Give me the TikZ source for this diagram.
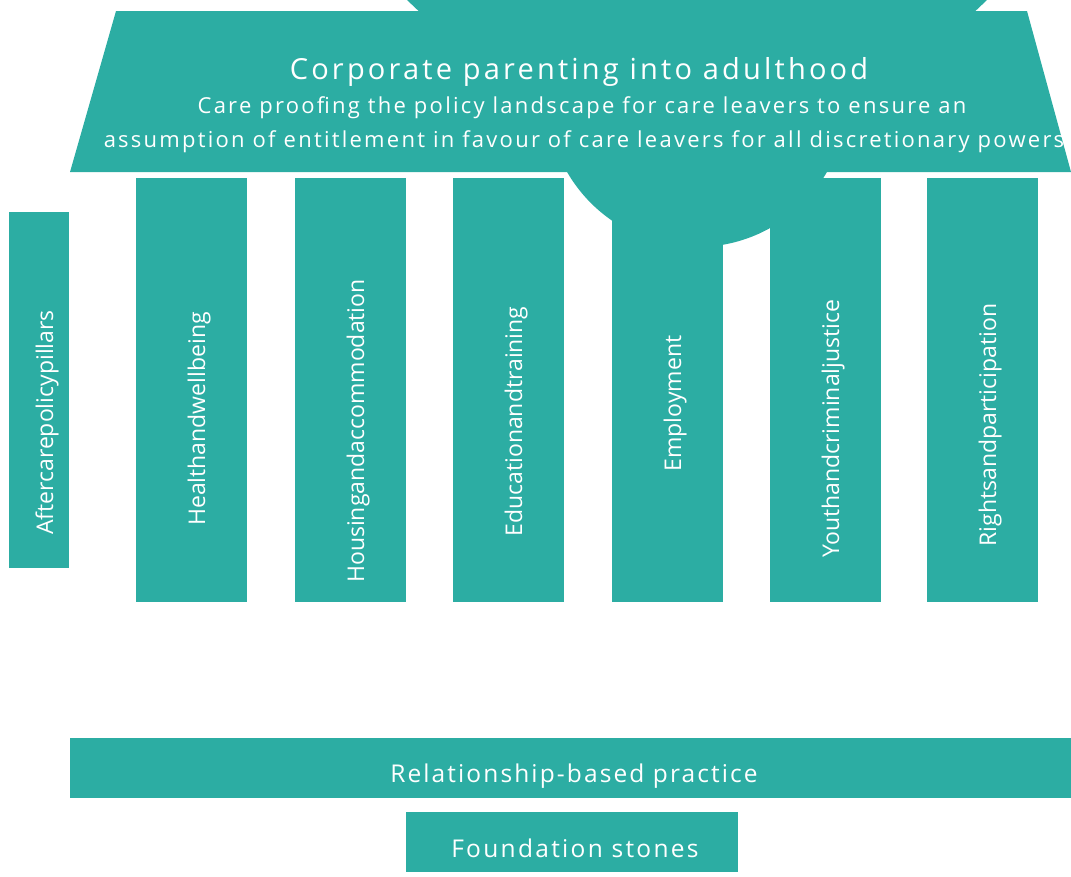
\documentclass[tikz,border=0pt]{standalone}
\usepackage{fontspec}
\setmainfont{Open Sans}
\newfontfamily\spacedT[LetterSpace=11]{Open Sans}
\newfontfamily\spacedS[LetterSpace=10.2]{Open Sans}
\newfontfamily\spacedR[LetterSpace=8.6]{Open Sans}
\newfontfamily\spacedF[LetterSpace=9.4]{Open Sans}
\definecolor{tealc}{RGB}{44,173,163}
\begin{document}
\begin{tikzpicture}[x=1pt,y=-1pt,
  pillar/.style={fill=tealc, draw=none, inner sep=0pt, outer sep=0pt, anchor=north west, minimum width=111pt, minimum height=424pt},
  slab/.style={fill=tealc, draw=none, inner sep=0pt, outer sep=0pt, anchor=north west, minimum height=60pt},
  vlabel/.style={text=white, rotate=90, anchor=base, inner sep=0pt, font=\fontsize{23}{23}\selectfont},
  hlabel/.style={text=white, anchor=base, inner sep=0pt}]
\useasboundingbox (0,0) rectangle (1071,876);
\begin{scope}
\clip (0,0) rectangle (1071,876);
\fill[tealc] (697,-290) circle[radius=410pt];
\end{scope}
\fill[tealc] (697,97) circle[radius=150pt];
\fill[tealc] (116,11) -- (1027,11) -- (1071,172) -- (70,172) -- cycle;
\node[hlabel, font=\spacedT\fontsize{29}{29}\selectfont] (title) at (579,79.5) {Corporate parenting into adulthood};
\node[hlabel, font=\spacedS\fontsize{22}{22}\selectfont] (sub1) at (582,113) {Care proofing the policy landscape for care leavers to ensure an};
\node[hlabel, font=\spacedS\fontsize{22}{22}\selectfont] (sub2) at (584,147) {assumption of entitlement in favour of care leavers for all discretionary powers};
% pillars
\node[pillar, minimum width=60pt, minimum height=356pt] (aft) at (9,212) {};
\node[pillar] (health) at (136,178) {};
\node[pillar] (housing) at (295,178) {};
\node[pillar] (edu) at (453,178) {};
\node[pillar] (emp) at (612,178) {};
\node[pillar] (youth) at (770,178) {};
\node[pillar] (rights) at (927,178) {};
\node[vlabel] (aftl) at (53,422.5) {Aftercarepolicypillars};
\node[vlabel] (healthl) at (205,419) {Healthandwellbeing};
\node[vlabel] (housingl) at (364,431) {Housingandaccommodation};
\node[vlabel] (edul) at (522,421.5) {Educationandtraining};
\node[vlabel] (empl) at (681,403.5) {Employment};
\node[vlabel] (youthl) at (839,428.5) {Youthandcriminaljustice};
\node[vlabel] (rightsl) at (996,425) {Rightsandparticipation};
% foundations
\node[slab, minimum width=1001pt] (rel) at (70,738) {};
\node[slab, minimum width=332pt] (found) at (406,812) {};
\node[hlabel, font=\spacedR\fontsize{24.5}{24.5}\selectfont] (rell) at (574,782) {Relationship-based practice};
\node[hlabel, font=\spacedF\fontsize{24.5}{24.5}\selectfont] (foundl) at (575,857) {Foundation stones};
\end{tikzpicture}
\end{document}
